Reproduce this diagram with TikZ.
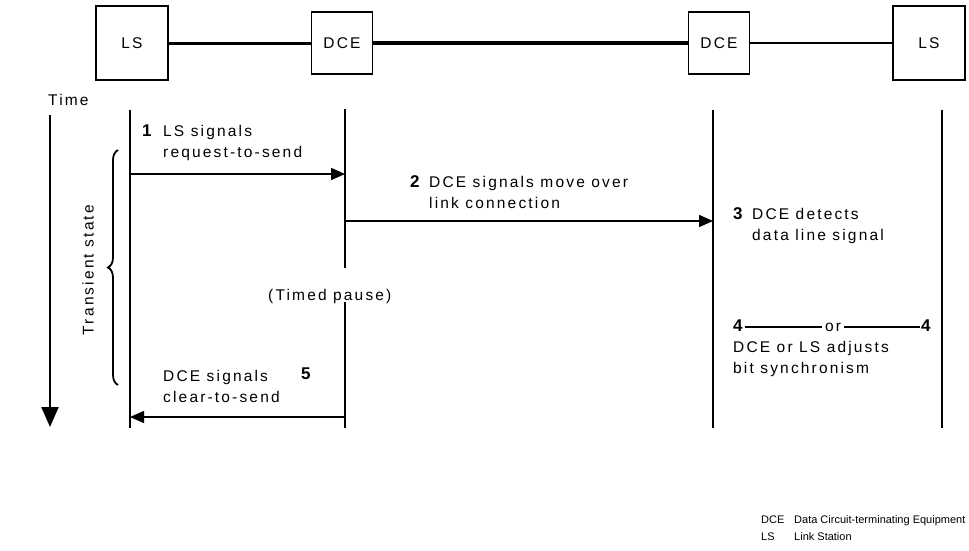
\documentclass[tikz,border=0pt]{standalone}
\usepackage{fontspec}
\setmainfont{Liberation Sans}[LetterSpace=14]
\newfontfamily\keyfont{Liberation Sans}
\usetikzlibrary{arrows.meta,positioning,decorations.pathreplacing}

\begin{document}
\begin{tikzpicture}[
  x=1pt, y=-1pt,
  font=\fontsize{15.5}{21}\selectfont,
  station/.style={rectangle, draw, line width=1.3pt, minimum width=72pt,
                  minimum height=74pt, inner sep=0pt},
  modem/.style={rectangle, draw, line width=1.3pt, minimum width=61pt,
                minimum height=62pt, inner sep=0pt},
  life/.style={line width=1.6pt},
  arr/.style={-{Triangle[length=14pt, width=12pt]}, line width=1.5pt},
  num/.style={font=\fontsize{17}{21}\selectfont\bfseries},
  txt/.style={anchor=base west, inner sep=0pt, align=left},
  legend/.style={anchor=base west, inner sep=0pt, font=\keyfont\fontsize{11}{16}\selectfont}
]
\useasboundingbox (0,0) rectangle (969,550);

% --- Stations ---
\node[station] (ls1)  at (132,43) {LS};
\node[modem]   (dce1) at (342,43) {DCE};
\node[modem]   (dce2) at (719,43) {DCE};
\node[station] (ls2)  at (929,43) {LS};

\draw[line width=3pt]   (ls1)  -- (dce1);
\draw[line width=4.2pt] (dce1) -- (dce2);
\draw[line width=2.2pt] (dce2) -- (ls2);

% --- Time axis ---
\node[txt] (time) at (48,105) {Time};
\coordinate (tstart) at (50,115);
\coordinate (tend)   at (50,427);
\draw[line width=2.2pt, -{Triangle[length=20pt, width=17pt]}] (tstart) -- (tend);

\draw[decorate, decoration={brace, amplitude=10pt}, line width=1.8pt]
  (118,385) -- (118,150);
\node[rotate=90] (trans) at (88,270) {Transient state};

% --- Lifelines ---
\coordinate (ls1top)  at (130,110);
\coordinate (ls1bot)  at (130,428);
\coordinate (dce1top) at (345,109);
\coordinate (dce1gap) at (345,268);
\coordinate (dce1res) at (345,302);
\coordinate (dce1bot) at (345,428);
\coordinate (dce2top) at (713,110);
\coordinate (dce2bot) at (713,428);
\coordinate (ls2top)  at (942,110);
\coordinate (ls2bot)  at (942,428);

\draw[life] (ls1top)  -- (ls1bot);
\draw[life] (dce1top) -- (dce1gap);
\draw[life] (dce1res) -- (dce1bot);
\draw[life] (dce2top) -- (dce2bot);
\draw[life] (ls2top)  -- (ls2bot);

% --- Signals ---
\coordinate (rtsA) at (130,174);
\coordinate (rtsB) at (345,174);
\coordinate (movA) at (345,221);
\coordinate (movB) at (713,221);
\coordinate (ctsA) at (345,417);
\coordinate (ctsB) at (130,417);

\draw[arr] (rtsA) -- (rtsB);
\draw[arr] (movA) -- (movB);
\draw[arr] (ctsA) -- (ctsB);

% --- Labels ---
\node[txt, num] (n1) at (142,136) {1};
\node[txt] (l1) at (163,157) {LS signals\\request-to-send};

\node[txt, num] (n2) at (410,187) {2};
\node[txt] (l2) at (429,208) {DCE signals move over\\link connection};

\node[txt, num] (n3) at (733,219) {3};
\node[txt] (l3) at (752,240) {DCE detects\\data line signal};

\node[txt] (pause) at (268,300) {(Timed pause)};

\node[txt, num] (n4a) at (733,331) {4};
\node[txt] (or) at (825,331) {or};
\node[txt, num] (n4b) at (921,331) {4};
\draw[line width=1.2pt] ([xshift=2pt, yshift=4pt]n4a.base east)
  -- ([xshift=-3pt, yshift=4pt]n4a.base east -| or.west);
\draw[line width=1.2pt] ([xshift=3pt, yshift=4pt]n4a.base east -| or.east)
  -- ([xshift=-1pt, yshift=4pt]n4a.base east -| n4b.west);
\node[txt] (l4) at (733,373) {DCE or LS adjusts\\bit synchronism};

\node[txt] (l5) at (163,402) {DCE signals\\clear-to-send};
\node[txt, num] (n5) at (301,379) {5};

% --- Legend ---
\node[legend] (kdce) at (761,523) {DCE};
\node[legend] (vdce) at (794,523) {Data Circuit-terminating Equipment};
\node[legend] (kls)  at (761,540) {LS};
\node[legend] (vls)  at (794,540) {Link Station};

\end{tikzpicture}
\end{document}
